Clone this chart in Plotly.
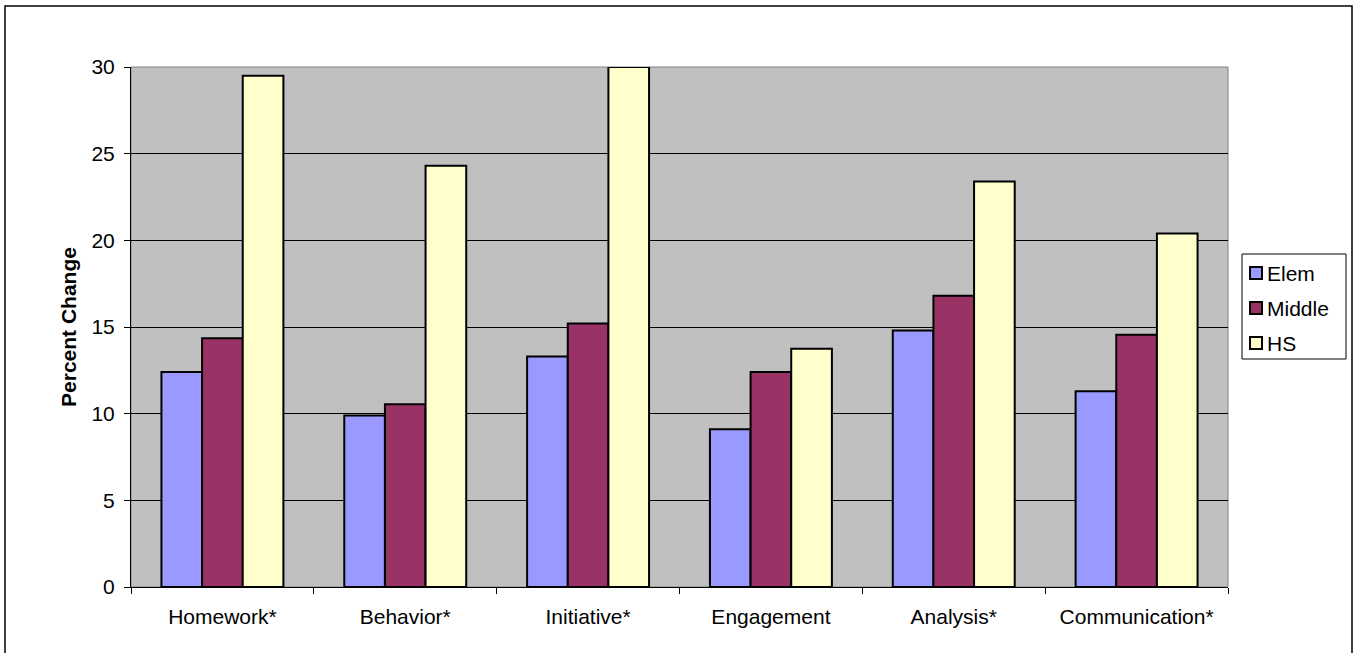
import plotly.graph_objects as go

categories = ["Homework*", "Behavior*", "Initiative*", "Engagement", "Analysis*", "Communication*"]
elem = [12.4, 9.9, 13.3, 9.1, 14.8, 11.3]
middle = [14.35, 10.55, 15.2, 12.4, 16.8, 14.55]
hs = [29.5, 24.3, 30.0, 13.75, 23.4, 20.4]
series_names = ["Elem", "Middle", "HS"]
colors = ["#9999FF", "#993366", "#FFFFCC"]
y_ticks = [0, 5, 10, 15, 20, 25, 30]

W, H = 1357, 653
L, R, T, B = 131, 129, 67, 66
pw, ph = W - L - R, H - T - B

font = "Liberation Sans, Arial, sans-serif"

fig = go.Figure()
for name, vals, col in zip(series_names, [elem, middle, hs], colors):
    fig.add_trace(go.Bar(x=categories, y=vals, name=name, showlegend=False,
                         marker=dict(color=col, line=dict(color="black", width=2))))


def px_x(p):
    return (p - L) / pw


def px_y(p):
    return (H - B - p) / ph


shapes = [
    dict(type="rect", xref="paper", yref="paper", x0=0, x1=1, y0=0, y1=1,
         line=dict(color="#808080", width=1), layer="below"),
    dict(type="rect", xref="paper", yref="paper",
         x0=px_x(5), x1=px_x(1352), y0=px_y(660), y1=px_y(6),
         line=dict(color="black", width=1.5)),
    # legend box
    dict(type="rect", xref="paper", yref="paper",
         x0=px_x(1242), x1=px_x(1346), y0=px_y(359), y1=px_y(254),
         line=dict(color="black", width=1), fillcolor="white"),
]
annotations = []
for i, (name, col) in enumerate(zip(series_names, colors)):
    cy = 273 + i * 35
    shapes.append(dict(type="rect", xref="paper", yref="paper",
                       x0=px_x(1250), x1=px_x(1262), y0=px_y(cy + 6), y1=px_y(cy - 6),
                       line=dict(color="black", width=2), fillcolor=col))
    annotations.append(dict(xref="paper", yref="paper", x=px_x(1265), y=px_y(cy),
                            xanchor="left", yanchor="middle", showarrow=False,
                            text=name, font=dict(family=font, size=21, color="black")))

fig.update_layout(
    width=W, height=H,
    margin=dict(l=L, r=R, t=T, b=B),
    paper_bgcolor="white",
    plot_bgcolor="#C0C0C0",
    barmode="group",
    bargap=0.333,
    bargroupgap=0,
    font=dict(family=font, size=20, color="black"),
    showlegend=False,
    xaxis=dict(
        showgrid=False, showline=True, linecolor="black", linewidth=1,
        ticks="outside", ticklen=6, tickcolor="black", tickson="boundaries",
        tickfont=dict(size=21), ticklabelstandoff=11, mirror=False,
    ),
    yaxis=dict(
        range=[0, 30], tickvals=y_ticks, ticktext=[str(v) for v in y_ticks],
        showgrid=True, gridcolor="black", gridwidth=1,
        showline=True, linecolor="black", linewidth=1,
        ticks="outside", ticklen=6, tickcolor="black",
        tickfont=dict(size=21), ticklabelstandoff=5,
        title=dict(text="<b>Percent Change</b>", font=dict(size=21), standoff=9),
        zeroline=False,
    ),
    shapes=shapes,
    annotations=annotations,
)

fig.write_html("out.html")
